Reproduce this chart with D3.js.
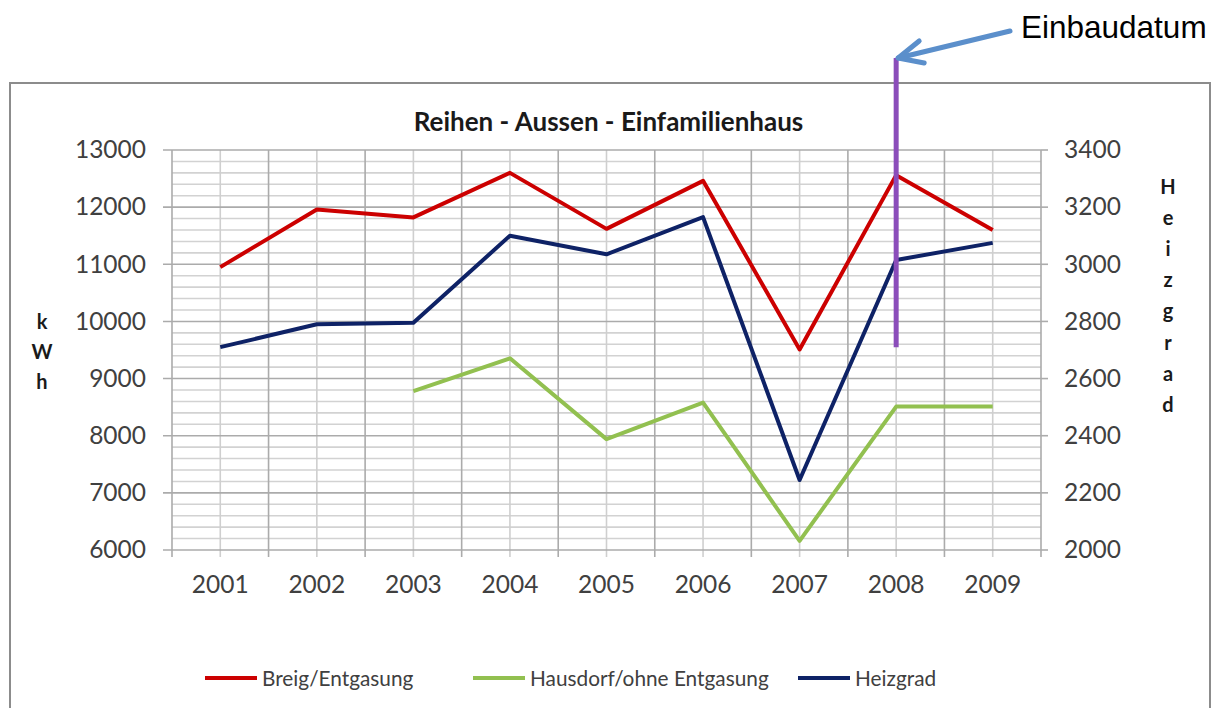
<!DOCTYPE html>
<html><head><meta charset="utf-8">
<script src="https://cdn.jsdelivr.net/npm/d3@7"></script>
<style>
html,body{margin:0;padding:0;background:#fff;}
svg{display:block;}
text{font-family:Lato,"Open Sans",sans-serif;}
</style></head>
<body>
<svg id="chart" width="1217" height="708"></svg>
<script>
const years = ["2001","2002","2003","2004","2005","2006","2007","2008","2009"];
const breig = [10950,11960,11820,12600,11620,12460,9510,12560,11600];
const hausdorf = [null,null,8780,9355,7940,8580,6160,8510,8510];
const heizgrad = [2710,2790,2795,3100,3035,3165,2245,3015,3075];
const leftTicks = [6000,7000,8000,9000,10000,11000,12000,13000];
const rightTicks = [2000,2200,2400,2600,2800,3000,3200,3400];
const seriesNames = ["Breig/Entgasung","Hausdorf/ohne Entgasung","Heizgrad"];
const titleText = "Reihen - Aussen - Einfamilienhaus";
const leftLabel = "kWh";
const rightLabel = "Heizgrad";
const installYear = "2008";
const installRange = [9550, 14610]; // in kWh (left axis) units
const annotationText = "Einbaudatum";

const svg = d3.select("#chart");
const L = 172, R = 1041, T = 150, B = 550;
const x = d3.scaleBand().domain(years).range([L, R]);
const yL = d3.scaleLinear().domain([6000,13000]).range([B, T]);
const yR = d3.scaleLinear().domain([2000,3400]).range([B, T]);
const cx = d => x(d) + x.bandwidth()/2;

svg.append("rect").attr("x",10).attr("y",83).attr("width",1200).attr("height",660)
  .attr("fill","#fff").attr("stroke","#8c8c8c").attr("stroke-width",2);

const g = svg.append("g");
const minorVals = d3.range(6000, 13001, 200).filter(v => v % 1000 !== 0);
g.selectAll(".hmin").data(minorVals).join("line")
  .attr("x1",L).attr("x2",R).attr("y1",d=>yL(d)).attr("y2",d=>yL(d))
  .attr("stroke","#d2d2d2").attr("stroke-width",1.6);
g.selectAll(".vmin").data(years).join("line")
  .attr("x1",d=>cx(d)).attr("x2",d=>cx(d)).attr("y1",T).attr("y2",B+7)
  .attr("stroke","#cfcfcf").attr("stroke-width",1.6);
const bounds = years.map(d => x(d)).concat([R]);
g.selectAll(".vmaj").data(bounds).join("line")
  .attr("x1",d=>d).attr("x2",d=>d).attr("y1",T).attr("y2",B+7)
  .attr("stroke","#ababab").attr("stroke-width",1.6);
g.selectAll(".hmaj").data(leftTicks).join("line")
  .attr("x1",L-9).attr("x2",R).attr("y1",d=>yL(d)).attr("y2",d=>yL(d))
  .attr("stroke","#ababab").attr("stroke-width",1.6);
g.selectAll(".rt").data(rightTicks).join("line")
  .attr("x1",R).attr("x2",R+7).attr("y1",d=>yR(d)).attr("y2",d=>yR(d))
  .attr("stroke","#ababab").attr("stroke-width",1.6);

const axL = svg.append("g").attr("transform",`translate(${L-26},0)`)
  .call(d3.axisLeft(yL).tickValues(leftTicks).tickSize(0).tickPadding(0).tickFormat(d3.format("d")));
const axR = svg.append("g").attr("transform",`translate(${R+23},0)`)
  .call(d3.axisRight(yR).tickValues(rightTicks).tickSize(0).tickPadding(0).tickFormat(d3.format("d")));
const axB = svg.append("g").attr("transform",`translate(0,${B+26})`)
  .call(d3.axisBottom(x).tickSize(0).tickPadding(0));
[axL,axR,axB].forEach(a => {
  a.select(".domain").remove();
  a.selectAll("text").attr("fill","#404040").style("font-size","24.5px").style("font-family","Lato,'Open Sans',sans-serif");
});
axB.selectAll("text").attr("dy","0.71em");

const lineL = d3.line().defined(d => d != null).x((d,i)=>cx(years[i])).y(d=>yL(d));
const lineR = d3.line().x((d,i)=>cx(years[i])).y(d=>yR(d));
svg.append("path").datum(hausdorf).attr("d", lineL).attr("fill","none")
  .attr("stroke","#92C050").attr("stroke-width",4).attr("stroke-linejoin","round");
svg.append("path").datum(heizgrad).attr("d", lineR).attr("fill","none")
  .attr("stroke","#0E2266").attr("stroke-width",4).attr("stroke-linejoin","round");
svg.append("path").datum(breig).attr("d", lineL).attr("fill","none")
  .attr("stroke","#CC0000").attr("stroke-width",4).attr("stroke-linejoin","round");

svg.append("text").attr("x",(L+R)/2+2).attr("y",131).attr("text-anchor","middle")
  .attr("fill","#1a1a1a").style("font-size","26px").style("font-weight","bold").text(titleText);

svg.append("g").selectAll("text").data(leftLabel.split("")).join("text")
  .attr("x",42).attr("y",(d,i)=>329+i*30).attr("text-anchor","middle")
  .attr("fill","#1a1a1a").style("font-size","20px").style("font-weight","bold").text(d=>d);
svg.append("g").selectAll("text").data(rightLabel.split("")).join("text")
  .attr("x",1168).attr("y",(d,i)=>194+i*31.1).attr("text-anchor","middle")
  .attr("fill","#1a1a1a").style("font-size","20px").style("font-weight","bold").text(d=>d);

const legColors = ["#CC0000","#92C050","#0E2266"];
const legX = [205, 473, 798];
const leg = svg.append("g").selectAll("g").data(seriesNames).join("g")
  .attr("transform",(d,i)=>`translate(${legX[i]},678)`);
leg.append("line").attr("x1",0).attr("x2",52).attr("y1",0).attr("y2",0)
  .attr("stroke",(d,i)=>legColors[i]).attr("stroke-width",4);
leg.append("text").attr("x",57).attr("y",8).attr("fill","#404040")
  .style("font-size","20.8px").text(d=>d);

const mx = cx(installYear);
svg.append("line").attr("x1",mx).attr("x2",mx)
  .attr("y1",yL(installRange[0])).attr("y2",yL(installRange[1]))
  .attr("stroke","#8B4DBA").attr("stroke-width",5);

const tipX = mx + 2, tipY = yL(installRange[1]);
const arrow = svg.append("g").attr("stroke","#5B8FCB").attr("stroke-width",5)
  .attr("stroke-linecap","round").attr("fill","none");
arrow.append("line").attr("x1",1010).attr("y1",31).attr("x2",tipX).attr("y2",tipY);
arrow.append("polyline").attr("points",`${tipX+21},${tipY-17} ${tipX},${tipY} ${tipX+26},${tipY+5}`)
  .attr("stroke-linejoin","round");

svg.append("text").attr("x",1021).attr("y",38).attr("fill","#000")
  .style("font-family","'Liberation Sans',Arial,sans-serif").style("font-size","31.5px").text(annotationText);
</script>
</body></html>
